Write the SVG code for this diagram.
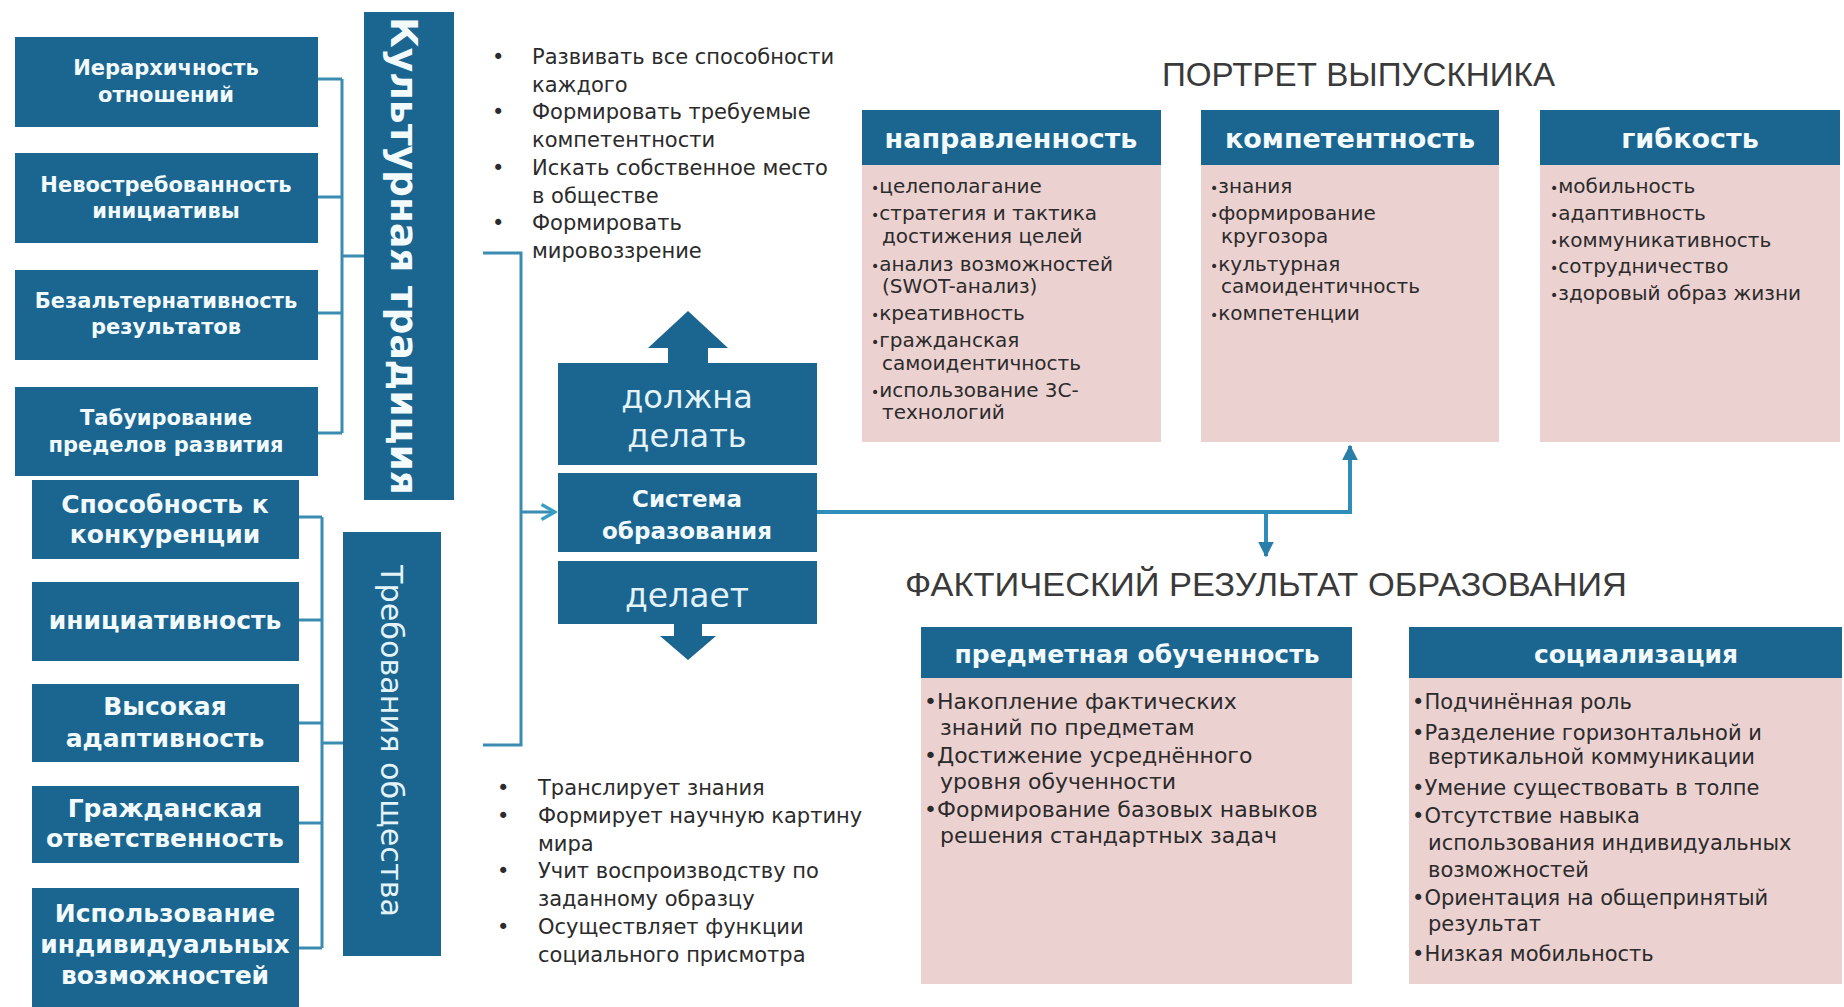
<svg xmlns="http://www.w3.org/2000/svg" width="1844" height="1007" viewBox="0 0 1844 1007">
<style>
.box{fill:#1b6591}
.body{fill:#ecd1d1}
.wb{font-family:"DejaVu Sans",sans-serif;font-weight:bold;fill:#f2fafc;text-anchor:middle}
.wl{font-family:"DejaVu Sans",sans-serif;fill:#e4f3f8;text-anchor:middle}
.t{font-family:"DejaVu Sans",sans-serif;fill:#2b2b2b}
.title{font-family:"Liberation Sans",sans-serif;fill:#3a3a3a;font-size:33px}
.ln{fill:none;stroke:#3a8cb2;stroke-width:3}
.ln2{fill:none;stroke:#2f8dba;stroke-width:4}
.bl{font-size:14px}
</style>
<defs>
<marker id="ah" viewBox="0 0 10 10" refX="9" refY="5" markerWidth="16" markerHeight="16" markerUnits="userSpaceOnUse" orient="auto">
<path d="M0,0 L10,5 L0,10 z" fill="#2a7fa8"/>
</marker>
<marker id="chev" viewBox="0 0 12 12" refX="11" refY="6" markerWidth="18" markerHeight="18" markerUnits="userSpaceOnUse" orient="auto">
<path d="M2,1 L11,6 L2,11" fill="none" stroke="#3a9ec4" stroke-width="2.2"/>
</marker>
</defs>
<rect width="1844" height="1007" fill="#ffffff"/>

<g id="connectors">
<path class="ln" d="M318,79 H342 M318,197 H342 M318,313 H342 M318,433 H342 M342,79 V433 M342,256 H364"/>
<path class="ln" d="M299,517 H322 M299,620 H322 M299,723 H322 M299,823 H322 M299,948 H322 M322,517 V948 M322,743 H343"/>
<path class="ln" d="M483,253 H521 V745 H483"/>
<path class="ln" d="M521,512 H555" marker-end="url(#chev)"/>
<path class="ln2" d="M817,512 H1350 V446" marker-end="url(#ah)"/>
<path class="ln2" d="M1266,512 V556" marker-end="url(#ah)"/>
</g>

<g id="n-ierarh"><rect class="box" x="15" y="37" width="303" height="90"/>
<text class="wb" font-size="21" x="166"><tspan x="166" y="75">Иерархичность</tspan><tspan x="166" y="102">отношений</tspan></text></g>
<g id="n-nevostr"><rect class="box" x="15" y="153" width="303" height="90"/>
<text class="wb" font-size="21" x="166"><tspan x="166" y="192">Невостребованность</tspan><tspan x="166" y="218">инициативы</tspan></text></g>
<g id="n-bezalt"><rect class="box" x="15" y="270" width="303" height="90"/>
<text class="wb" font-size="21" x="166"><tspan x="166" y="308">Безальтернативность</tspan><tspan x="166" y="334">результатов</tspan></text></g>
<g id="n-tabu"><rect class="box" x="15" y="387" width="303" height="89"/>
<text class="wb" font-size="21" x="166"><tspan x="166" y="425">Табуирование</tspan><tspan x="166" y="452">пределов  развития</tspan></text></g>

<g id="n-kult"><rect class="box" x="364" y="12" width="90" height="488"/>
<text class="wb" font-size="37" transform="translate(391,256) rotate(90)" x="0" y="0" textLength="478" lengthAdjust="spacingAndGlyphs">Культурная традиция</text></g>

<g id="n-konk"><rect class="box" x="32" y="480" width="267" height="79"/>
<text class="wb" font-size="25"><tspan x="165" y="513">Способность к</tspan><tspan x="165" y="543">конкуренции</tspan></text></g>
<g id="n-inic"><rect class="box" x="32" y="582" width="267" height="79"/>
<text class="wb" font-size="25" x="165" y="629">инициативность</text></g>
<g id="n-adapt"><rect class="box" x="32" y="684" width="267" height="78"/>
<text class="wb" font-size="25"><tspan x="165" y="715">Высокая</tspan><tspan x="165" y="747">адаптивность</tspan></text></g>
<g id="n-grazhd"><rect class="box" x="32" y="786" width="267" height="77"/>
<text class="wb" font-size="25"><tspan x="165" y="817">Гражданская</tspan><tspan x="165" y="847">ответственность</tspan></text></g>
<g id="n-ispolz"><rect class="box" x="32" y="888" width="267" height="119"/>
<text class="wb" font-size="25"><tspan x="165" y="922">Использование</tspan><tspan x="165" y="953">индивидуальных</tspan><tspan x="165" y="984">возможностей</tspan></text></g>

<g id="n-treb"><rect class="box" x="343" y="532" width="98" height="424"/>
<text class="wl" font-size="30" transform="translate(381,741) rotate(90)" x="0" y="0" textLength="352" lengthAdjust="spacingAndGlyphs" fill="#f2fafc">Требования общества</text></g>

<g id="n-should-list">
<text class="t" font-size="21"><tspan x="492" y="64">•</tspan><tspan x="532" y="64">Развивать все способности</tspan><tspan x="532" y="92">каждого</tspan><tspan x="492" y="119">•</tspan><tspan x="532" y="119">Формировать требуемые</tspan><tspan x="532" y="147">компетентности</tspan><tspan x="492" y="175">•</tspan><tspan x="532" y="175">Искать собственное место</tspan><tspan x="532" y="203">в обществе</tspan><tspan x="492" y="230">•</tspan><tspan x="532" y="230">Формировать</tspan><tspan x="532" y="258">мировоззрение</tspan></text>
</g>

<g id="n-does-list">
<text class="t" font-size="21"><tspan x="497" y="795">•</tspan><tspan x="538" y="795">Транслирует знания</tspan><tspan x="497" y="823">•</tspan><tspan x="538" y="823">Формирует научную картину</tspan><tspan x="538" y="851">мира</tspan><tspan x="497" y="878">•</tspan><tspan x="538" y="878">Учит воспроизводству по</tspan><tspan x="538" y="906">заданному образцу</tspan><tspan x="497" y="934">•</tspan><tspan x="538" y="934">Осуществляет функции</tspan><tspan x="538" y="962">социального присмотра</tspan></text>
</g>

<g id="n-system">
<path class="box" d="M688,311 L728,348 L708,348 L708,364 L668,364 L668,348 L648,348 z"/>
<rect class="box" x="558" y="363" width="259" height="102"/>
<text class="wl" font-size="32"><tspan x="687" y="408">должна</tspan><tspan x="687" y="447">делать</tspan></text>
<rect class="box" x="558" y="473" width="259" height="79"/>
<text class="wb" font-size="23"><tspan x="687" y="507">Система</tspan><tspan x="687" y="539">образования</tspan></text>
<rect class="box" x="558" y="561" width="259" height="63"/>
<text class="wl" font-size="33" x="687" y="607">делает</text>
<path class="box" d="M674,623 L702,623 L702,636 L716,636 L688,660 L660,636 L674,636 z"/>
</g>

<g id="n-portret-title"><text class="title" x="1162" y="86" textLength="393" lengthAdjust="spacingAndGlyphs">ПОРТРЕТ ВЫПУСКНИКА</text></g>

<g id="n-napravl">
<rect class="body" x="862" y="165" width="299" height="277"/>
<rect class="box" x="862" y="110" width="299" height="55"/>
<text class="wb" font-size="27" x="1011" y="148">направленность</text>
<text class="t" font-size="20"><tspan x="871" y="193" class="bl">•</tspan><tspan>целеполагание</tspan><tspan x="871" y="220" class="bl">•</tspan><tspan>стратегия и тактика</tspan><tspan x="882" y="243">достижения целей</tspan><tspan x="871" y="271" class="bl">•</tspan><tspan>анализ возможностей</tspan><tspan x="882" y="293">(SWOT-анализ)</tspan><tspan x="871" y="320" class="bl">•</tspan><tspan>креативность</tspan><tspan x="871" y="347" class="bl">•</tspan><tspan>гражданская</tspan><tspan x="882" y="370">самоидентичность</tspan><tspan x="871" y="397" class="bl">•</tspan><tspan>использование 3С-</tspan><tspan x="882" y="419">технологий</tspan></text>
</g>

<g id="n-kompet">
<rect class="body" x="1201" y="165" width="298" height="277"/>
<rect class="box" x="1201" y="110" width="298" height="55"/>
<text class="wb" font-size="27" x="1350" y="148">компетентность</text>
<text class="t" font-size="20"><tspan x="1210" y="193" class="bl">•</tspan><tspan>знания</tspan><tspan x="1210" y="220" class="bl">•</tspan><tspan>формирование</tspan><tspan x="1221" y="243">кругозора</tspan><tspan x="1210" y="271" class="bl">•</tspan><tspan>культурная</tspan><tspan x="1221" y="293">самоидентичность</tspan><tspan x="1210" y="320" class="bl">•</tspan><tspan>компетенции</tspan></text>
</g>

<g id="n-gibk">
<rect class="body" x="1540" y="165" width="300" height="277"/>
<rect class="box" x="1540" y="110" width="300" height="55"/>
<text class="wb" font-size="27" x="1690" y="148">гибкость</text>
<text class="t" font-size="20"><tspan x="1550" y="193" class="bl">•</tspan><tspan>мобильность</tspan><tspan x="1550" y="220" class="bl">•</tspan><tspan>адаптивность</tspan><tspan x="1550" y="247" class="bl">•</tspan><tspan>коммуникативность</tspan><tspan x="1550" y="273" class="bl">•</tspan><tspan>сотрудничество</tspan><tspan x="1550" y="300" class="bl">•</tspan><tspan>здоровый образ жизни</tspan></text>
</g>

<g id="n-fakt-title"><text class="title" x="905" y="596" textLength="722" lengthAdjust="spacingAndGlyphs">ФАКТИЧЕСКИЙ РЕЗУЛЬТАТ ОБРАЗОВАНИЯ</text></g>

<g id="n-predmet">
<rect class="body" x="921" y="678" width="431" height="306"/>
<rect class="box" x="921" y="627" width="431" height="51"/>
<text class="wb" font-size="25" x="1137" y="663">предметная обученность</text>
<text class="t" font-size="22"><tspan x="924" y="709">•Накопление  фактических</tspan><tspan x="940" y="735">знаний  по предметам</tspan><tspan x="924" y="763">•Достижение усреднённого</tspan><tspan x="940" y="789">уровня обученности</tspan><tspan x="924" y="817">•Формирование базовых навыков</tspan><tspan x="940" y="843">решения стандартных задач</tspan></text>
</g>

<g id="n-social">
<rect class="body" x="1409" y="678" width="433" height="306"/>
<rect class="box" x="1409" y="627" width="433" height="51"/>
<text class="wb" font-size="25" x="1636" y="663">социализация</text>
<text class="t" font-size="21"><tspan x="1412" y="709">•Подчинённая роль</tspan><tspan x="1412" y="740">•Разделение  горизонтальной и</tspan><tspan x="1428" y="764">вертикальной  коммуникации</tspan><tspan x="1412" y="795">•Умение существовать в толпе</tspan><tspan x="1412" y="823">•Отсутствие навыка</tspan><tspan x="1428" y="850">использования индивидуальных</tspan><tspan x="1428" y="877">возможностей</tspan><tspan x="1412" y="905">•Ориентация на общепринятый</tspan><tspan x="1428" y="931">результат</tspan><tspan x="1412" y="961">•Низкая мобильность</tspan></text>
</g>
</svg>
